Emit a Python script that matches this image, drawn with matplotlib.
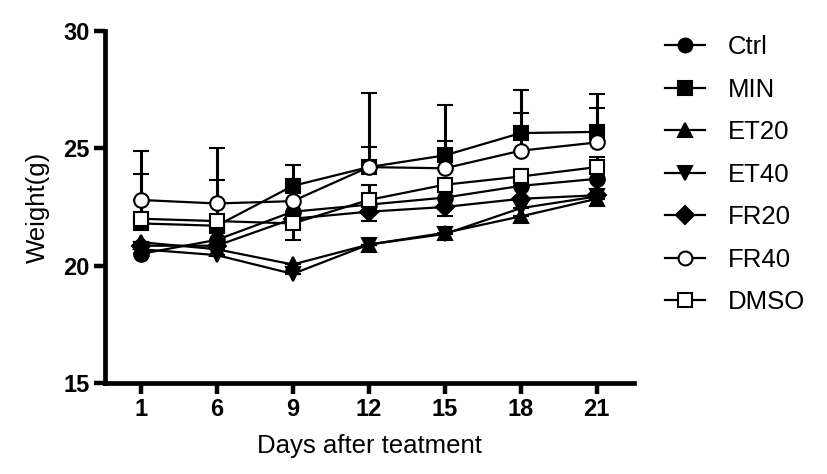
import matplotlib
matplotlib.use("Agg")
import matplotlib.pyplot as plt
import numpy as np

plt.rcParams['font.family'] = ['Liberation Sans', 'DejaVu Sans']

days = ["1", "6", "9", "12", "15", "18", "21"]
series_names = ["Ctrl", "MIN", "ET20", "ET40", "FR20", "FR40", "DMSO"]

ctrl = [20.5, 21.1, 22.3, 22.6, 22.9, 23.4, 23.7]
min_ = [21.8, 21.7, 23.4, 24.2, 24.7, 25.65, 25.7]
et20 = [21.0, 20.7, 20.05, 20.9, 21.4, 22.1, 22.85]
et40 = [20.7, 20.45, 19.65, 20.9, 21.35, 22.45, 22.95]
fr20 = [20.85, 20.85, 22.0, 22.3, 22.5, 22.85, 23.0]
fr40 = [22.8, 22.65, 22.75, 24.2, 24.15, 24.9, 25.25]
dmso = [22.0, 21.9, 21.8, 22.8, 23.45, 23.8, 24.2]

ctrl_up = [0, 0, 0, 0, 0, 0, 0]
min_up = [2.1, 1.95, 0.9, 3.15, 2.15, 1.85, 1.6]
et20_up = [0, 0, 0, 0, 0, 0, 0]
et40_up = [0, 0, 0, 0, 0, 0, 0]
fr20_up = [0, 0, 0, 0, 0, 0, 0]
fr40_up = [2.1, 2.35, 0, 0.85, 1.15, 1.6, 1.45]
dmso_up = [0.3, 0.25, 0, 0.65, 0.3, 0.3, 0.45]

ctrl_dn = [0, 0, 0, 0, 0.8, 0, 0]
min_dn = [0, 0, 0, 0, 0, 0, 0]
et20_dn = [0, 0, 0, 0, 0, 0, 0]
et40_dn = [0, 0, 0, 0, 0, 0, 0]
fr20_dn = [0, 0, 0, 0.4, 0, 0, 0]
fr40_dn = [0, 0, 0, 0, 0, 0, 0]
dmso_dn = [0, 0, 0.7, 0, 0, 0, 0]

values = [ctrl, min_, et20, et40, fr20, fr40, dmso]
ups = [ctrl_up, min_up, et20_up, et40_up, fr20_up, fr40_up, dmso_up]
dns = [ctrl_dn, min_dn, et20_dn, et40_dn, fr20_dn, fr40_dn, dmso_dn]
markers = ["o", "s", "^", "v", "D", "o", "s"]
filled = [True, True, True, True, True, False, False]
msizes = [10.5, 10.5, 10.5, 10.5, 9.5, 10.5, 10.5]

fig = plt.figure(figsize=(8.27, 4.74), dpi=100)
ax = fig.add_axes([105/827, 1-383/474, (634-105)/827, (383-31)/474])

x = np.arange(len(days))
handles = []
for name, v, up, dn, m, f, ms in zip(series_names, values, ups, dns, markers, filled, msizes):
    up = np.array(up, dtype=float)
    dn = np.array(dn, dtype=float)
    mfc = "black" if f else "white"
    ax.errorbar(x, v, yerr=[dn, up], color="black", lw=1.6,
                elinewidth=2.2, capsize=5.8, capthick=3.0,
                marker=m, ms=ms, mec="black", mew=1.5, mfc=mfc, zorder=3)
    h, = ax.plot([], [], color="black", lw=1.6, marker=m, ms=ms*0.95,
                 mec="black", mew=1.5, mfc=mfc, label=name)
    handles.append(h)

ax.set_xlim(-0.47, 6.49)
ax.set_ylim(15, 30)
ax.set_yticks([15, 20, 25, 30])
ax.set_xticks(x)
ax.set_xticklabels(days)
for s in ["top", "right"]:
    ax.spines[s].set_visible(False)
for s in ["left", "bottom"]:
    ax.spines[s].set_linewidth(3.4)
ax.tick_params(axis="both", direction="out", length=8, width=3.2,
               labelsize=17, pad=3)
for lab in ax.get_xticklabels() + ax.get_yticklabels():
    lab.set_fontweight("bold")
ax.set_xlabel("Days after teatment", fontsize=18.5, labelpad=9)
ax.set_ylabel("Weight(g)", fontsize=18.5, labelpad=10)

fig.legend(handles=handles, loc="upper left", bbox_to_anchor=(655/827, 1-25/474),
           frameon=False, fontsize=18.5, labelspacing=0.72, handlelength=1.55,
           handletextpad=0.9, borderaxespad=0)

fig.savefig("out.png", dpi=100)
